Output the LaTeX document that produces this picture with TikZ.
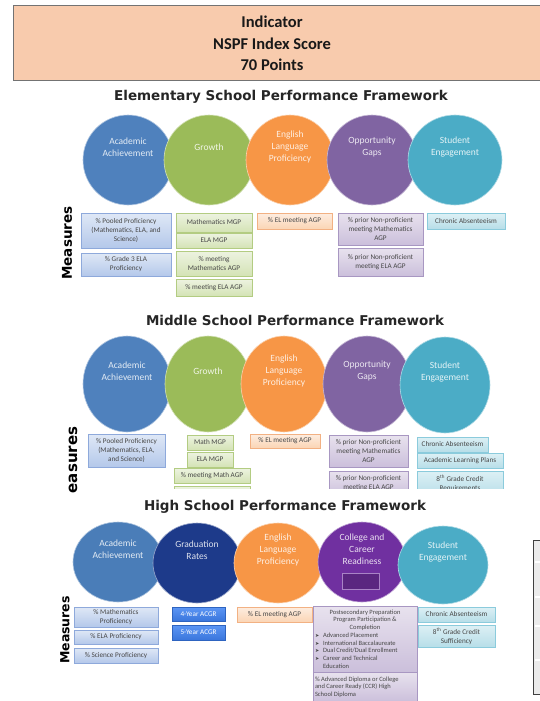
\documentclass[tikz,border=0pt]{standalone}
\usepackage{fontspec}
\setmainfont{Carlito}
\newfontfamily\titlefont{DejaVu Sans}
\usetikzlibrary{shapes.geometric}

\definecolor{acblue}{HTML}{4F81BD}
\definecolor{grgreen}{HTML}{9BBB59}
\definecolor{elorange}{HTML}{F79646}
\definecolor{oppurple}{HTML}{8064A2}
\definecolor{seteal}{HTML}{4BACC6}
\definecolor{hsblue}{HTML}{4A7DB8}
\definecolor{gradnavy}{HTML}{1D3A8A}
\definecolor{ccrpurple}{HTML}{7030A0}
\definecolor{headpeach}{HTML}{F8CBAD}
\definecolor{bxtopb}{HTML}{DFE8F6}\definecolor{bxbotb}{HTML}{B4C8EA}\definecolor{bxdrawb}{HTML}{8EA9DB}
\definecolor{bxtopg}{HTML}{EDF3E1}\definecolor{bxbotg}{HTML}{D4E3B5}\definecolor{bxdrawg}{HTML}{B3CC82}
\definecolor{bxtopo}{HTML}{FDEDE0}\definecolor{bxboto}{HTML}{FBD5B5}\definecolor{bxdrawo}{HTML}{F2B183}
\definecolor{bxtopp}{HTML}{E8E2EE}\definecolor{bxbotp}{HTML}{CBBFDB}\definecolor{bxdrawp}{HTML}{A897C2}
\definecolor{bxtopt}{HTML}{DDF0F5}\definecolor{bxbott}{HTML}{B7DEE8}\definecolor{bxdrawt}{HTML}{8BCBDC}
\definecolor{bxtopa}{HTML}{5C96F5}\definecolor{bxbota}{HTML}{3A76DC}\definecolor{bxdrawa}{HTML}{2E64C0}

\tikzset{
  quan/.style={ellipse, inner sep=0pt, fill=#1, draw=white!55!#1, line width=0.6pt},
  quantext/.style={align=center, font=\fontsize{9.5}{12}\selectfont, text=white!85!#1},
  sectitle/.style={font=\titlefont\bfseries\fontsize{13.5}{16}\selectfont, text=black!85},
  celiang/.style={font=\titlefont\bfseries\fontsize{13.5}{16}\selectfont, rotate=90},
  measbase/.style={rectangle, inner sep=1pt, align=center, font=\fontsize{7.2}{9}\selectfont, text=black!72, line width=0.5pt},
  meas/.style n args={3}{measbase, top color=#1, bottom color=#2, draw=#3},
  mblue/.style={meas={bxtopb}{bxbotb}{bxdrawb}},
  mgreen/.style={meas={bxtopg}{bxbotg}{bxdrawg}},
  morange/.style={meas={bxtopo}{bxboto}{bxdrawo}},
  mpurple/.style={meas={bxtopp}{bxbotp}{bxdrawp}},
  mteal/.style={meas={bxtopt}{bxbott}{bxdrawt}},
  mgrad/.style={meas={bxtopa}{bxbota}{bxdrawa}, text=white}
}

% 圆: 名字, x, y, 横半径, 纵半径, 颜色, 文字
\newcommand{\quanq}[7]{%
  \node[quan=#6, minimum width=2*#4, minimum height=2*#5] (#1) at (#2,#3) {};
  \node[quantext=#6] (#1t) at ([yshift=13pt]#1.center) {#7};}
% 方框: 样式, x1, y1, x2, y2, 名字, 文字
\newcommand{\hezi}[7]{%
  \node[#1, minimum width={#4-#2}, minimum height={#5-#3}] (#6) at ({(#2+#4)/2},{(#3+#5)/2}) {#7};}

\begin{document}
\begin{tikzpicture}[x=1pt, y=-1pt]
\useasboundingbox (0,0) rectangle (540,701);
\clip (0,0) rectangle (540,701);
\fill[white] (0,0) rectangle (540,701);

% 标题框
\node[draw=black!55, fill=headpeach, line width=0.8pt, minimum width=540, minimum height=75, anchor=north west] (head) at (13,5) {};
\node[font=\bfseries\fontsize{16.5}{21.5}\selectfont, align=center, text=black!90] (headt) at (272,43.5) {Indicator\\NSPF Index Score\\70 Points};

% 小学
\node[sectitle] (etitle) at (281,97) {Elementary School Performance Framework};
\quanq{eAA}{128}{160}{45}{45}{acblue}{Academic\\Achievement}
\quanq{eGR}{209}{160}{45}{45}{grgreen}{Growth}
\quanq{eEL}{290}{160}{44}{45}{elorange}{English\\Language\\Proficiency}
\quanq{eOG}{372}{160}{45}{45}{oppurple}{Opportunity\\Gaps}
\quanq{eSE}{455}{160}{47}{45}{seteal}{Student\\Engagement}
\node[celiang] (emeas) at (67,243) {Measures};
\hezi{mblue}{81}{213}{171}{248}{eA1}{\% Pooled Proficiency\\(Mathematics, ELA, and\\Science)}
\hezi{mblue}{81}{253}{171}{276}{eA2}{\% Grade 3 ELA\\Proficiency}
\hezi{mgreen}{176}{213}{252}{232}{eG1}{Mathematics MGP}
\hezi{mgreen}{176}{233}{252}{248}{eG2}{ELA MGP}
\hezi{mgreen}{176}{251}{252}{276}{eG3}{\% meeting\\Mathematics AGP}
\hezi{mgreen}{176}{279}{252}{296}{eG4}{\% meeting ELA AGP}
\hezi{morange}{257}{213}{332}{229}{eE1}{\% EL meeting AGP}
\hezi{mpurple}{338}{213}{423}{245}{eO1}{\% prior Non-proficient\\meeting Mathematics\\AGP}
\hezi{mpurple}{338}{248}{423}{276}{eO2}{\% prior Non-proficient\\meeting ELA AGP}
\hezi{mteal}{427}{213}{505}{229}{eS1}{Chronic Absenteeism}

% 初中
\node[sectitle] (mtitle) at (295,320) {Middle School Performance Framework};
\quanq{mAA}{127}{384}{44}{48}{acblue}{Academic\\Achievement}
\quanq{mGR}{208}{384}{43}{48}{grgreen}{Growth}
\quanq{mEL}{284}{384}{43}{48}{elorange}{English\\Language\\Proficiency}
\quanq{mOG}{367}{384}{44}{48}{oppurple}{Opportunity\\Gaps}
\quanq{mSE}{445}{385}{45}{48}{seteal}{Student\\Engagement}
\node[celiang, font=\titlefont\bfseries\fontsize{15}{17}\selectfont] (mmeas) at (73,460) {easures};
\begin{scope}
\clip (0,300) rectangle (540,488);       % 下面被遮住
\hezi{mblue}{88}{434}{165}{467}{mA1}{\% Pooled Proficiency\\(Mathematics, ELA,\\and Science)}
\hezi{mgreen}{187}{435}{233}{450}{mG1}{Math MGP}
\hezi{mgreen}{187}{452}{233}{467}{mG2}{ELA MGP}
\hezi{mgreen}{174}{468}{250}{483}{mG3}{\% meeting Math AGP}
\hezi{mgreen}{174}{486}{250}{500}{mG4}{}
\hezi{morange}{250}{434}{320}{448}{mE1}{\% EL meeting AGP}
\hezi{mpurple}{329}{435}{408}{467}{mO1}{\% prior Non-proficient\\meeting Mathematics\\AGP}
\hezi{mpurple}{329}{471}{408}{496}{mO2}{\% prior Non-proficient\\meeting ELA AGP}
\hezi{mteal}{417}{437}{488}{452}{mS1}{Chronic Absenteeism}
\hezi{mteal}{417}{453}{503}{468}{mS2}{Academic Learning Plans}
\hezi{mteal}{417}{471}{503}{496}{mS3}{8\textsuperscript{th} Grade Credit\\Requirements}
\end{scope}

% 高中
\node[sectitle] (htitle) at (285,507) {High School Performance Framework};
\quanq{hAA}{118}{562}{45}{40}{hsblue}{Academic\\Achievement}
\quanq{hGR}{197}{563}{44}{40}{gradnavy}{Graduation\\Rates}
\quanq{hEL}{278}{563}{44}{40}{elorange}{English\\Language\\Proficiency}
\quanq{hCC}{362}{562}{44}{40}{ccrpurple}{College and\\Career\\Readiness}
\quanq{hSE}{443}{565}{45}{39}{seteal}{Student\\Engagement}
\node[fill=ccrpurple!80!black, draw=ccrpurple!60!white, minimum width=37, minimum height=16, inner sep=0pt] (hCCbox) at (360.5,581) {};
\node[celiang, font=\titlefont\bfseries\fontsize{12.5}{15}\selectfont] (hmeas) at (65,630) {Measures};
\hezi{mblue}{74}{607}{158}{627}{hA1}{\% Mathematics\\Proficiency}
\hezi{mblue}{74}{630}{158}{644}{hA2}{\% ELA Proficiency}
\hezi{mblue}{74}{648}{158}{663}{hA3}{\% Science Proficiency}
\hezi{mgrad}{172}{607}{225}{621}{hG1}{4-Year ACGR}
\hezi{mgrad}{172}{625}{225}{640}{hG2}{5-Year ACGR}
\hezi{morange}{237}{607}{312}{622}{hE1}{\% EL meeting AGP}
\hezi{mpurple}{313}{606}{417}{672}{hC1}{\parbox{100pt}{\fontsize{6.5}{7.7}\selectfont\centering
  Postsecondary Preparation\\Program Participation \&\\Completion\par\raggedright
  \makebox[8pt][l]{\titlefont\tiny ➤}Advanced Placement\\
  \makebox[8pt][l]{\titlefont\tiny ➤}International Baccalaureate\\
  \makebox[8pt][l]{\titlefont\tiny ➤}Dual Credit/Dual Enrollment\\
  \makebox[8pt][l]{\titlefont\tiny ➤}Career and Technical\\
  \hspace*{8pt}Education}}
\hezi{mpurple}{313}{672}{417}{702}{hC2}{\parbox{100pt}{\fontsize{6.5}{7.7}\selectfont\raggedright
  \% Advanced Diploma or College\\and Career Ready (CCR) High\\School Diploma}}
\hezi{mteal}{418}{607}{495}{622}{hS1}{Chronic Absenteeism}
\hezi{mteal}{418}{625}{495}{647}{hS2}{8\textsuperscript{th} Grade Credit\\Sufficiency}

% 右边的表格
\draw[black!75, fill=black!8, line width=0.8pt] (533,540) rectangle (550,694);
\foreach \hy in {562,597,626,660}
  \draw[white, line width=1.2pt] (535,\hy) -- (550,\hy);
\end{tikzpicture}
\end{document}
